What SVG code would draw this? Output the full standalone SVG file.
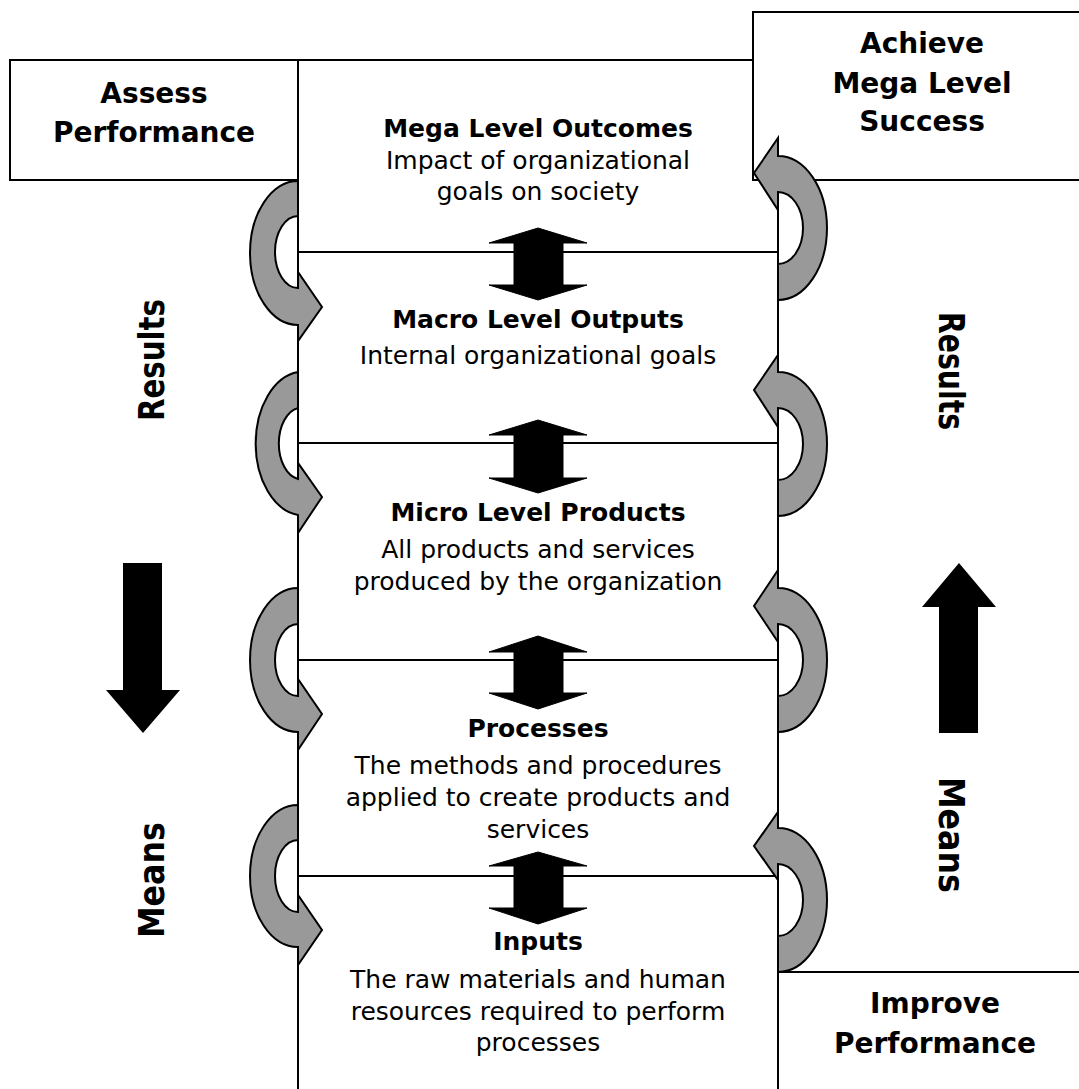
<svg xmlns="http://www.w3.org/2000/svg" width="1079" height="1089" viewBox="0 0 1079 1089">
<defs>
<style>
.box{fill:#fff;stroke:#000;stroke-width:2}
.ln{fill:none;stroke:#000;stroke-width:2}
.curve{fill:#999;stroke:#000;stroke-width:2;stroke-linejoin:miter}
.dbl{fill:#000;stroke:#000;stroke-width:1}
.big{fill:#000}
.side{font-family:"DejaVu Sans",sans-serif;font-weight:bold;font-size:28px;text-anchor:middle;fill:#000}
.title{font-family:"DejaVu Sans",sans-serif;font-weight:bold;font-size:25px;text-anchor:middle;fill:#000}
.body{font-family:"DejaVu Sans",sans-serif;font-size:25px;text-anchor:middle;fill:#000}
.rot{font-family:"DejaVu Sans",sans-serif;font-weight:bold;font-size:35px;text-anchor:middle;fill:#000}
</style>
</defs>
<rect width="1079" height="1089" fill="#fff"/>

<g id="column">
  <line class="ln" x1="298" y1="60" x2="753" y2="60"/>
  <line class="ln" x1="298" y1="60" x2="298" y2="1095"/>
  <line class="ln" x1="778" y1="180" x2="778" y2="1095"/>
</g>

<g id="node-assess">
  <rect class="box" x="10" y="60" width="288" height="120"/>
  <text class="side" x="154" y="103">Assess</text>
  <text class="side" x="154" y="142">Performance</text>
</g>

<g id="node-achieve">
  <rect class="box" x="753" y="12" width="340" height="168"/>
  <text class="side" x="922" y="53">Achieve</text>
  <text class="side" x="922" y="93">Mega Level</text>
  <text class="side" x="922" y="131">Success</text>
</g>

<g id="node-improve">
  <rect class="box" x="778" y="972" width="320" height="140"/>
  <text class="side" x="935" y="1013">Improve</text>
  <text class="side" x="935" y="1053">Performance</text>
</g>

<g id="dividers">
  <line class="ln" x1="298" y1="252" x2="778" y2="252"/>
  <line class="ln" x1="298" y1="443" x2="778" y2="443"/>
  <line class="ln" x1="298" y1="660" x2="778" y2="660"/>
  <line class="ln" x1="298" y1="876" x2="778" y2="876"/>
</g>

<g id="node-mega">
  <text class="title" x="538" y="137">Mega Level Outcomes</text>
  <text class="body" x="538" y="169">Impact of organizational</text>
  <text class="body" x="538" y="200">goals on society</text>
</g>
<g id="node-macro">
  <text class="title" x="538" y="328">Macro Level Outputs</text>
  <text class="body" x="538" y="364">Internal organizational goals</text>
</g>
<g id="node-micro">
  <text class="title" x="538" y="521">Micro Level Products</text>
  <text class="body" x="538" y="558">All products and services</text>
  <text class="body" x="538" y="590">produced by the organization</text>
</g>
<g id="node-processes">
  <text class="title" x="538" y="737">Processes</text>
  <text class="body" x="538" y="774">The methods and procedures</text>
  <text class="body" x="538" y="806">applied to create products and</text>
  <text class="body" x="538" y="838">services</text>
</g>
<g id="node-inputs">
  <text class="title" x="538" y="950">Inputs</text>
  <text class="body" x="538" y="988">The raw materials and human</text>
  <text class="body" x="538" y="1020">resources required to perform</text>
  <text class="body" x="538" y="1051">processes</text>
</g>

<g id="labels">
  <text class="rot" transform="translate(164,360) rotate(-90)" textLength="122" lengthAdjust="spacingAndGlyphs">Results</text>
  <text class="rot" transform="translate(164,880) rotate(-90)" textLength="116" lengthAdjust="spacingAndGlyphs">Means</text>
  <text class="rot" transform="translate(939,371) rotate(90)" textLength="118" lengthAdjust="spacingAndGlyphs">Results</text>
  <text class="rot" transform="translate(939,835) rotate(90)" textLength="116" lengthAdjust="spacingAndGlyphs">Means</text>
</g>

<g id="connectors">
  <path class="curve" d="M298,181 A48,72 0 0 0 298,325 L298,341 L322,307 L298,272 L298,288 A23,36 0 0 1 298,216 Z"/>
  <path class="curve" d="M298,372 A48,72 0 0 0 298,515 L298,533 L322,497 L298,463 L298,479 A23,36 0 0 1 298,408 Z"/>
  <path class="curve" d="M298,588 A48,72 0 0 0 298,732 L298,750 L322,714 L298,679 L298,696 A23,36 0 0 1 298,624 Z"/>
  <path class="curve" d="M298,805 A48,71 0 0 0 298,947 L298,965 L322,930 L298,895 L298,912 A23,36 0 0 1 298,840 Z"/>
  <path class="curve" d="M778,300 A49,72 0 0 0 778,156 L778,138 L754,173 L778,210 L778,192 A25,36 0 0 1 778,264 Z"/>
  <path class="curve" d="M778,516 A49,72 0 0 0 778,372 L778,355 L754,390 L778,427 L778,408 A25,36 0 0 1 778,480 Z"/>
  <path class="curve" d="M778,732 A49,72 0 0 0 778,588 L778,570 L754,606 L778,642 L778,624 A25,36 0 0 1 778,696 Z"/>
  <path class="curve" d="M778,972 A49,72 0 0 0 778,828 L778,812 L754,846 L778,880 L778,864 A25,36 0 0 1 778,936 Z"/>
  <polygon class="dbl" points="538,228 587,243 563,243 563,285 587,285 538,300 489,285 514,285 514,243 489,243"/>
  <polygon class="dbl" points="538,420 587,435 563,435 563,478 587,478 538,493 489,478 514,478 514,435 489,435"/>
  <polygon class="dbl" points="538,636 587,652 563,652 563,693 587,693 538,709 489,693 514,693 514,652 489,652"/>
  <polygon class="dbl" points="538,852 587,866 563,866 563,908 587,908 538,924 489,908 514,908 514,866 489,866"/>
  <polygon class="big" points="123,563 162,563 162,690 180,690 143,733 106,690 123,690"/>
  <polygon class="big" points="959,563 996,607 978,607 978,733 939,733 939,607 922,607"/>
</g>
</svg>
